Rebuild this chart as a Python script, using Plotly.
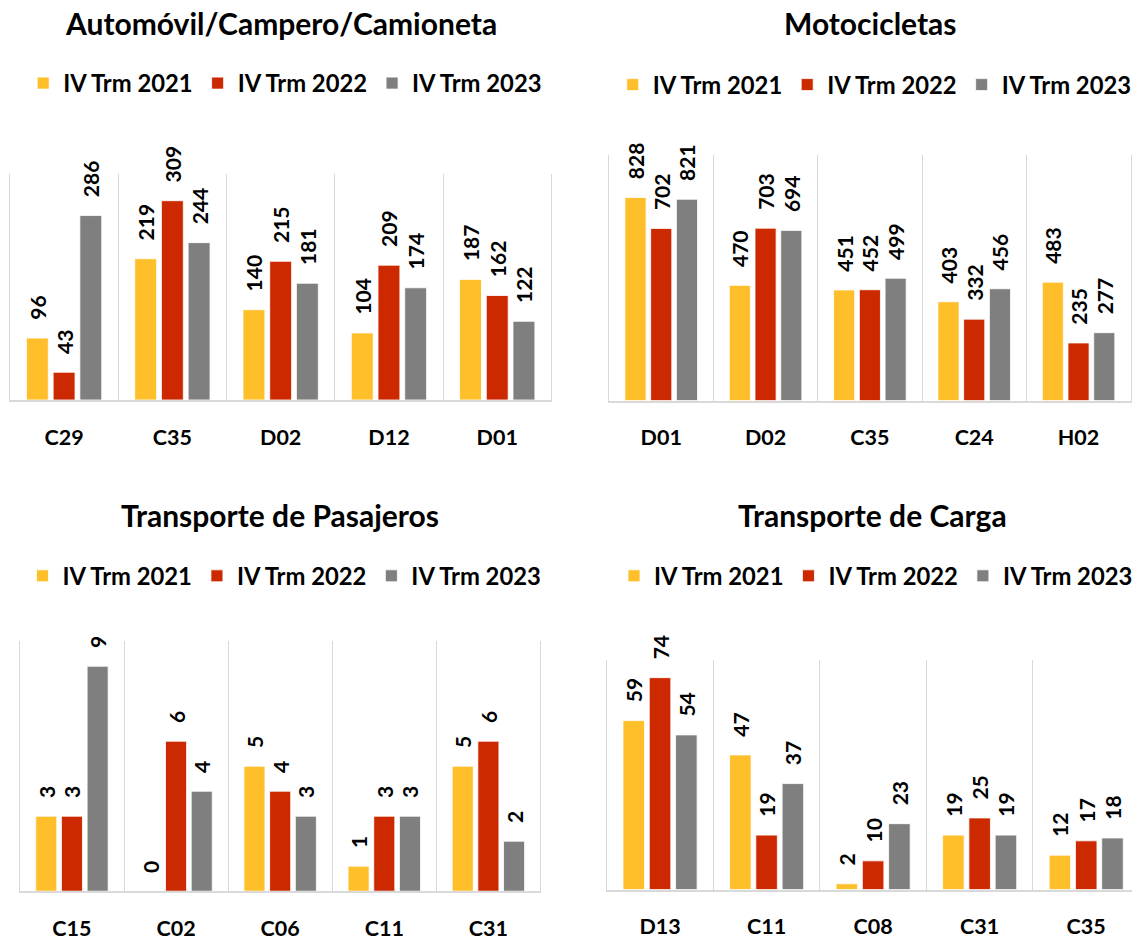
import plotly.graph_objects as go

# ---------------- data ----------------
series_names = ["IV Trm 2021", "IV Trm 2022", "IV Trm 2023"]

auto_title = "Automóvil/Campero/Camioneta"
auto_cats = ["C29", "C35", "D02", "D12", "D01"]
auto_2021 = [96, 219, 140, 104, 187]
auto_2022 = [43, 309, 215, 209, 162]
auto_2023 = [286, 244, 181, 174, 122]

moto_title = "Motocicletas"
moto_cats = ["D01", "D02", "C35", "C24", "H02"]
moto_2021 = [828, 470, 451, 403, 483]
moto_2022 = [702, 703, 452, 332, 235]
moto_2023 = [821, 694, 499, 456, 277]

pas_title = "Transporte de Pasajeros"
pas_cats = ["C15", "C02", "C06", "C11", "C31"]
pas_2021 = [3, 0, 5, 1, 5]
pas_2022 = [3, 6, 4, 3, 6]
pas_2023 = [9, 4, 3, 3, 2]

carga_title = "Transporte de Carga"
carga_cats = ["D13", "C11", "C08", "C31", "C35"]
carga_2021 = [59, 47, 2, 19, 12]
carga_2022 = [74, 19, 10, 25, 17]
carga_2023 = [54, 37, 23, 19, 18]

# ---------------- style ----------------
COLORS = ["#FEBF2B", "#CC2900", "#7F7F7F"]
GRID = "#D9D9D9"
FONT = "Lato"
W, H = 1138, 941

panels = [
    dict(title=auto_title, cats=auto_cats, vals=[auto_2021, auto_2022, auto_2023],
         xdom=[10 / W, 554.3 / W], ydom=[1 - 401.7 / H, 1 - 175 / H], ymax=350,
         xrange=[-0.5, 4.5], mirror=True,
         tx=282.2 / W, ty=1 - 23.3 / H, lx=286.7 / W, ly=1 - 83.5 / H),
    dict(title=moto_title, cats=moto_cats, vals=[moto_2021, moto_2022, moto_2023],
         xdom=[612.3 / W, 1136.7 / W], ydom=[1 - 402.3 / H, 1 - 156 / H], ymax=1000,
         xrange=[-0.5, 4.5], mirror=True,
         tx=874.7 / W, ty=1 - 23.3 / H, lx=879.4 / W, ly=1 - 85 / H),
    dict(title=pas_title, cats=pas_cats, vals=[pas_2021, pas_2022, pas_2023],
         xdom=[20 / W, 543.3 / W], ydom=[1 - 895 / H, 1 - 644 / H], ymax=10,
         xrange=[-0.5, 4.5], mirror=True,
         tx=281.5 / W, ty=1 - 516.7 / H, lx=286 / W, ly=1 - 578.3 / H),
    dict(title=carga_title, cats=carga_cats, vals=[carga_2021, carga_2022, carga_2023],
         xdom=[610 / W, 1.0], ydom=[1 - 893.3 / H, 1 - 663.3 / H], ymax=80,
         xrange=[-0.5, 4.43], mirror=False,
         tx=877 / W, ty=1 - 516.7 / H, lx=880.9 / W, ly=1 - 578.3 / H),
]

fig = go.Figure()
layout = dict(
    width=W, height=H,
    margin=dict(l=0, r=0, t=0, b=0),
    paper_bgcolor="white", plot_bgcolor="white",
    barmode="group", bargap=0.26, bargroupgap=0.18,
    font=dict(family=FONT, color="black"),
    annotations=[],
)

for i, p in enumerate(panels):
    n = "" if i == 0 else str(i + 1)
    xa, ya = "x" + n, "y" + n
    lg = "legend" + n
    for s in range(3):
        fig.add_trace(go.Bar(
            x=p["cats"], y=p["vals"][s], name=series_names[s],
            xaxis=xa, yaxis=ya, legend=lg,
            marker=dict(color=COLORS[s], line=dict(color="white", width=0.8)),
            texttemplate="\u00a0\u00a0\u00a0%{y}", textposition="outside",
            textangle=-90, constraintext="none", cliponaxis=False,
            textfont=dict(family=FONT, size=21, color="black", weight="bold"),
            hoverinfo="skip",
        ))
    layout["xaxis" + n] = dict(
        domain=p["xdom"], anchor=ya, type="category", range=p["xrange"],
        tickson="boundaries", ticks="", showgrid=True, gridcolor=GRID, gridwidth=1.3,
        showline=True, linecolor=GRID, linewidth=2,
        tickfont=dict(family=FONT, size=21.5, color="black", weight="bold"),
        ticklabelstandoff=17, fixedrange=True,
    )
    layout["yaxis" + n] = dict(
        domain=p["ydom"], anchor=xa, range=[0, p["ymax"]],
        showline=True, mirror=p["mirror"], linecolor=GRID, linewidth=1.3,
        showticklabels=False, ticks="", showgrid=False, zeroline=False, fixedrange=True,
    )
    layout[lg] = dict(
        orientation="h", x=p["lx"], y=p["ly"], xanchor="center", yanchor="middle",
        font=dict(family=FONT, size=23.8, color="black", weight="bold"),
        bgcolor="rgba(0,0,0,0)", itemclick=False, itemdoubleclick=False,
    )
    layout["annotations"].append(dict(
        text=p["title"], x=p["tx"], y=p["ty"], xref="paper", yref="paper",
        xanchor="center", yanchor="middle", showarrow=False,
        font=dict(family=FONT, size=30, color="black", weight="bold"),
    ))

fig.update_layout(**layout)
fig.write_html(
    "out.html",
    config={"displayModeBar": False},
    post_script="document.body.style.margin='0px';document.body.style.overflow='hidden';",
)
